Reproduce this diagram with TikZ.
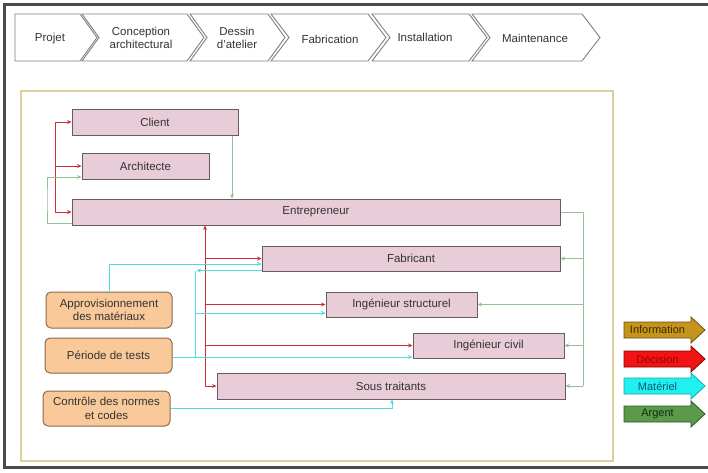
\documentclass[tikz,border=0pt]{standalone}
\usepackage{fontspec}
\setmainfont{Liberation Sans}
\usetikzlibrary{arrows.meta,calc}
\definecolor{pinkf}{HTML}{E8CDD9}
\definecolor{pinkd}{HTML}{665C60}
\definecolor{orf}{HTML}{F9C99A}
\definecolor{ord}{HTML}{8A6A4A}
\definecolor{decc}{HTML}{CC2E3C}
\definecolor{matc}{HTML}{4FDDE0}
\definecolor{argc}{HTML}{94BE94}
\definecolor{txt}{HTML}{333333}
\definecolor{chev}{HTML}{808080}
\definecolor{frame}{HTML}{DCCF98}
\definecolor{outer}{HTML}{4A4A4A}
\definecolor{infoF}{HTML}{C4941C}
\definecolor{infoD}{HTML}{6B5010}
\definecolor{infoT}{HTML}{3D2B00}
\definecolor{decF}{HTML}{F01414}
\definecolor{decD}{HTML}{8A0000}
\definecolor{decT}{HTML}{A00000}
\definecolor{matF}{HTML}{22F0F0}
\definecolor{matD}{HTML}{11AAAA}
\definecolor{matT}{HTML}{0A5A6A}
\definecolor{argF}{HTML}{5B9A4A}
\definecolor{argD}{HTML}{2A5A2A}
\definecolor{argT}{HTML}{0F2F0F}
\tikzset{
  pbox/.style={draw=pinkd, fill=pinkf, line width=1pt, inner sep=0pt, text=txt},
  obox/.style={draw=ord, fill=orf, line width=1pt, rounded corners=5pt, inner sep=0pt, text=txt, align=center},
  chevbox/.style={draw=chev, fill=white, line width=0.9pt},
  chevtxt/.style={text=txt, align=center, inner sep=0pt},
  tip/.style={-{Stealth[length=4.5pt,width=4pt]}},
  dec/.style={draw=decc, line width=0.9pt},
  mat/.style={draw=matc, line width=0.9pt},
  arg/.style={draw=argc, line width=0.9pt},
  legtxt/.style={inner sep=0pt, font=\fontsize{11}{13}\selectfont}
}
\begin{document}
\begin{tikzpicture}[x=1pt, y=-1pt, font=\fontsize{11.5}{13.5}\selectfont]
\useasboundingbox (0,0) rectangle (708,472);
\fill[white] (0,0) rectangle (708,472);
\draw[outer, line width=3pt] (4.5,4.5) rectangle (716,467);

% chevrons
\draw[chevbox] (15,14) -- (80,14) -- (97,37.5) -- (80,61) -- (15,61) -- cycle;
\draw[chevbox] (82,14) -- (187,14) -- (204,37.5) -- (187,61) -- (82,61) -- (99,37.5) -- cycle;
\draw[chevbox] (190,14) -- (268,14) -- (285,37.5) -- (268,61) -- (190,61) -- (207,37.5) -- cycle;
\draw[chevbox] (271,14) -- (368,14) -- (386,37.5) -- (368,61) -- (271,61) -- (289,37.5) -- cycle;
\draw[chevbox] (372,14) -- (469,14) -- (487,37.5) -- (469,61) -- (372,61) -- (390,37.5) -- cycle;
\draw[chevbox] (472,14) -- (582,14) -- (600,37.5) -- (582,61) -- (472,61) -- (490,37.5) -- cycle;
\node[chevtxt] (c1) at (50,39) {Projet};
\node[chevtxt] (c2) at (141,38) {Conception\\architectural};
\node[chevtxt] (c3) at (237,38) {Dessin\\d'atelier};
\node[chevtxt] (c4) at (330,39) {Fabrication};
\node[chevtxt] (c5) at (425,37) {Installation};
\node[chevtxt] (c6) at (535,38) {Maintenance};

% inner frame
\draw[frame, line width=1.1pt] (21,91) rectangle (613,461);

% boxes
\node[pbox, minimum width=166pt, minimum height=26pt] (client) at (155,122) {Client};
\node[pbox, minimum width=127pt, minimum height=26pt] (archi) at (145.5,166) {Architecte};
\node[pbox, minimum width=488pt, minimum height=26pt] (entre) at (316,212) {Entrepreneur};
\node[pbox, minimum width=298pt, minimum height=25pt] (fab) at (411,258.5) {Fabricant};
\node[pbox, minimum width=151pt, minimum height=25pt] (struct) at (401.5,304.5) {Ingénieur structurel};
\node[pbox, minimum width=151pt, minimum height=25pt] (civil) at (488.5,345.5) {Ingénieur civil};
\node[pbox, minimum width=348pt, minimum height=26pt] (sous) at (391,386) {Sous traitants};
\node[obox, minimum width=126pt, minimum height=36pt] (appro) at (109,310) {Approvisionnement\\des matériaux};
\node[obox, minimum width=127pt, minimum height=35pt] (periode) at (108.5,355.5) {Période de tests};
\node[obox, minimum width=127pt, minimum height=35pt] (controle) at (106.5,408.5) {Contrôle des normes\\et codes};

% left red tree
\coordinate (lt) at (55,0);
\draw[dec] (lt |- client.west) -- (lt |- entre.west);
\draw[dec,tip] (lt |- client.west) -- (client.west);
\draw[dec,tip] (lt |- archi.west) -- (archi.west);
\draw[dec,tip] (lt |- entre.west) -- (entre.west);

% green client -> entrepreneur
\coordinate (cx) at (232,0);
\draw[arg,tip] (cx |- client.south) -- (cx |- entre.north);

% green entrepreneur -> architecte
\coordinate (gl) at (47,200);
\draw[arg,tip] ($(entre.west)+(0,11)$) -| (gl) |- ($(archi.west)+(0,11)$);

% central red tree
\coordinate (rc) at (205,0);
\draw[dec,tip] (rc |- sous.west) -- (rc |- entre.south);
\draw[dec,tip] (rc |- fab.west) -- (fab.west);
\draw[dec,tip] (rc |- struct.west) -- (struct.west);
\draw[dec,tip] (rc |- civil.west) -- (civil.west);
\draw[dec,tip] (rc |- sous.west) -- (sous.west);

% cyan material
\draw[mat,tip] (appro.north) |- ($(fab.west)+(0,5.5)$);
\coordinate (cj) at (195,0);
\coordinate (pe) at ($(periode.east)+(0,1.5)$);
\coordinate (ce) at ($(civil.west)+(0,11.5)$);
\coordinate (fb) at ($(fab.south west)+(0,-1)$);
\coordinate (sj) at ($(struct.west)+(0,8.5)$);
\draw[mat,tip] (pe) -- (ce);
\draw[mat] (cj |- pe) -- (cj |- fb);
\draw[mat,tip] (fb) -- ($(cj |- fb)+(1.5,0)$);
\draw[mat,tip] (cj |- sj) -- (sj);
\draw[mat,tip] (controle.east) -| ($(sous.south)+(1,0)$);

% green right tree
\coordinate (gr) at (583,0);
\draw[arg] (entre.east) -| (gr |- sous.east);
\draw[arg,tip] (gr |- fab.east) -- (fab.east);
\draw[arg,tip] (gr |- struct.east) -- (struct.east);
\draw[arg,tip] (gr |- civil.east) -- (civil.east);
\draw[arg,tip] (gr |- sous.east) -- (sous.east);

% legend
\filldraw[fill=infoF, draw=infoD, line width=0.8pt] (624,322) -- (691,322) -- (691,317) -- (705,330) -- (691,343) -- (691,338) -- (624,338) -- cycle;
\node[legtxt, text=infoT] (l1) at (657.5,330) {Information};
\filldraw[fill=decF, draw=decD, line width=0.8pt] (624,351) -- (691,351) -- (691,346) -- (705,359) -- (691,372) -- (691,367) -- (624,367) -- cycle;
\node[legtxt, text=decT] (l2) at (657.5,359) {Décision};
\filldraw[fill=matF, draw=matD, line width=0.8pt] (624,378) -- (691,378) -- (691,373) -- (705,386) -- (691,399) -- (691,394) -- (624,394) -- cycle;
\node[legtxt, text=matT] (l3) at (657.5,386) {Matériel};
\filldraw[fill=argF, draw=argD, line width=0.8pt] (624,406) -- (691,406) -- (691,401) -- (705,414) -- (691,427) -- (691,422) -- (624,422) -- cycle;
\node[legtxt, text=argT] (l4) at (657.5,414) {Argent};
\end{tikzpicture}
\end{document}
